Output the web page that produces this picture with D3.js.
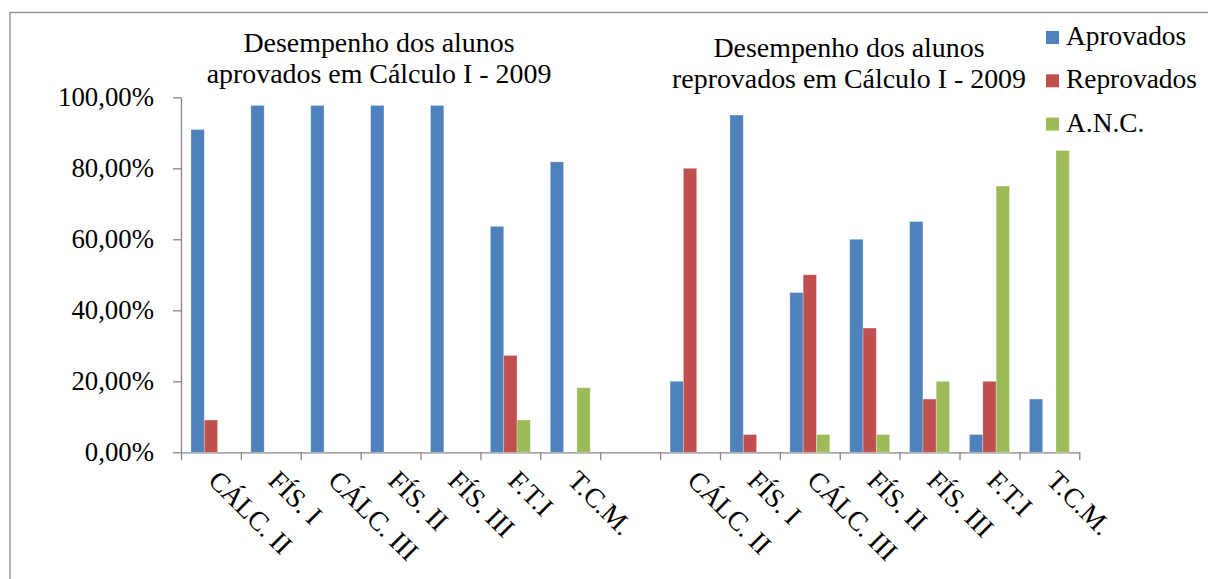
<!DOCTYPE html>
<html>
<head>
	<title></title>
	<style>
		body { margin: 0; background: #fff; }
		text { font-family: "Liberation Serif", "Times New Roman", serif; fill: #000; }
		.axis path, .axis line { stroke: #868686; stroke-width: 1.3; }
	</style>
</head>
<body>
	<svg id="container" height="579" width="1208"></svg>
</body>
<script src="https://d3js.org/d3.v7.min.js"></script>
<script>
	// categories (the empty one is the gap between both groups)
	let categories = ["CÁLC. II", "FÍS. I", "CÁLC. III", "FÍS. II", "FÍS. III", "F.T.I", "T.C.M.", "",
		"CÁLC. II", "FÍS. I", "CÁLC. III", "FÍS. II", "FÍS. III", "F.T.I", "T.C.M."]
	let seriesNames = ["Aprovados", "Reprovados", "A.N.C."]
	let colors = ["#4F81BD", "#C0504D", "#9BBB59"]

	let aprovados = [0.9091, 0.977, 0.977, 0.977, 0.977, 0.6364, 0.8182, 0, 0.20, 0.95, 0.45, 0.60, 0.65, 0.05, 0.15]
	let reprovados = [0.0909, 0, 0, 0, 0, 0.2727, 0, 0, 0.80, 0.05, 0.50, 0.35, 0.15, 0.20, 0]
	let anc = [0, 0, 0, 0, 0, 0.0909, 0.1818, 0, 0, 0, 0.05, 0.05, 0.20, 0.75, 0.85]

	let yTicks = [0, 0.2, 0.4, 0.6, 0.8, 1]
	let titles = [
		["Desempenho dos alunos", "aprovados em Cálculo I - 2009"],
		["Desempenho dos alunos", "reprovados em Cálculo I - 2009"]
	]

	let svg = d3.select("#container")
	let plotLeft = 181, plotRight = 1079.3, plotTop = 97.3, plotBottom = 452.3

	// outer frame (runs off the right and bottom of the picture)
	svg.append("rect")
		.attr("x", 10).attr("y", 12.5)
		.attr("width", 1400).attr("height", 800)
		.attr("fill", "none")
		.attr("stroke", "#8c8c8c")
		.attr("stroke-width", 1.3)

	let br = d3.formatLocale({ decimal: ",", thousands: ".", grouping: [3], currency: ["R$", ""] })
	let pct = br.format(".2%")

	let x0 = d3.scaleBand()
		.domain(d3.range(categories.length))
		.range([plotLeft, plotRight])
	let x1 = d3.scaleBand()
		.domain(d3.range(seriesNames.length))
		.range([0, x0.bandwidth()])
		.paddingOuter(0.75)
	let y = d3.scaleLinear()
		.domain([0, 1])
		.range([plotBottom, plotTop])

	// axes
	svg.append("g")
		.attr("class", "axis")
		.attr("transform", `translate(${plotLeft},0)`)
		.call(d3.axisLeft(y).tickValues(yTicks).tickFormat(pct).tickSize(8).tickSizeOuter(0).tickPadding(19))
		.call(g => g.selectAll("text").attr("font-size", "26.8px").attr("font-family", "Liberation Serif"))

	let xEdges = d3.scaleLinear().domain([0, categories.length]).range([plotLeft, plotRight])
	svg.append("g")
		.attr("class", "axis")
		.attr("transform", `translate(0,${plotBottom})`)
		.call(d3.axisBottom(xEdges).tickValues(d3.range(categories.length + 1)).tickFormat("").tickSize(8).tickSizeOuter(0))

	// bars
	let rows = categories.map((c, i) => ({ i: i, values: [aprovados[i], reprovados[i], anc[i]] }))
	let groups = svg.selectAll(".grp")
		.data(rows)
		.enter()
		.append("g")
		.attr("transform", d => `translate(${x0(d.i)},0)`)
	groups.selectAll("rect")
		.data(d => d.values.map((v, k) => ({ k: k, v: v })).filter(e => e.v > 0))
		.enter()
		.append("rect")
		.attr("x", d => x1(d.k))
		.attr("width", x1.bandwidth())
		.attr("y", d => y(d.v))
		.attr("height", d => plotBottom - y(d.v))
		.attr("fill", d => colors[d.k])
		.attr("stroke", "rgba(255,255,255,0.35)")
		.attr("stroke-width", 0.8)

	// rotated category labels
	svg.selectAll(".xlab")
		.data(categories)
		.enter()
		.append("text")
		.attr("class", "xlab")
		.attr("font-size", "27.3px")
		.attr("transform", (d, i) => `translate(${x0(i) + x0.bandwidth() / 2 - 4},482) rotate(45)`)
		.text(d => d)

	// titles above each group
	let titleX = [379, 849], titleY = [51.7, 56.7]
	titles.forEach((lines, t) => {
		svg.append("text")
			.attr("font-size", "27.9px")
			.attr("text-anchor", "middle")
			.selectAll("tspan")
			.data(lines)
			.enter()
			.append("tspan")
			.attr("x", titleX[t])
			.attr("y", (d, j) => titleY[t] + j * 31.7)
			.text(d => d)
	})

	// legend
	let legend = svg.selectAll(".leg")
		.data(seriesNames)
		.enter()
		.append("g")
		.attr("transform", (d, i) => `translate(1046,${45 + i * 43.3})`)
	legend.append("rect")
		.attr("x", 0).attr("y", -14)
		.attr("width", 13).attr("height", 13)
		.attr("fill", (d, i) => colors[i])
	legend.append("text")
		.attr("x", 20)
		.attr("font-size", "27.4px")
		.text(d => d)
</script>
</html>
